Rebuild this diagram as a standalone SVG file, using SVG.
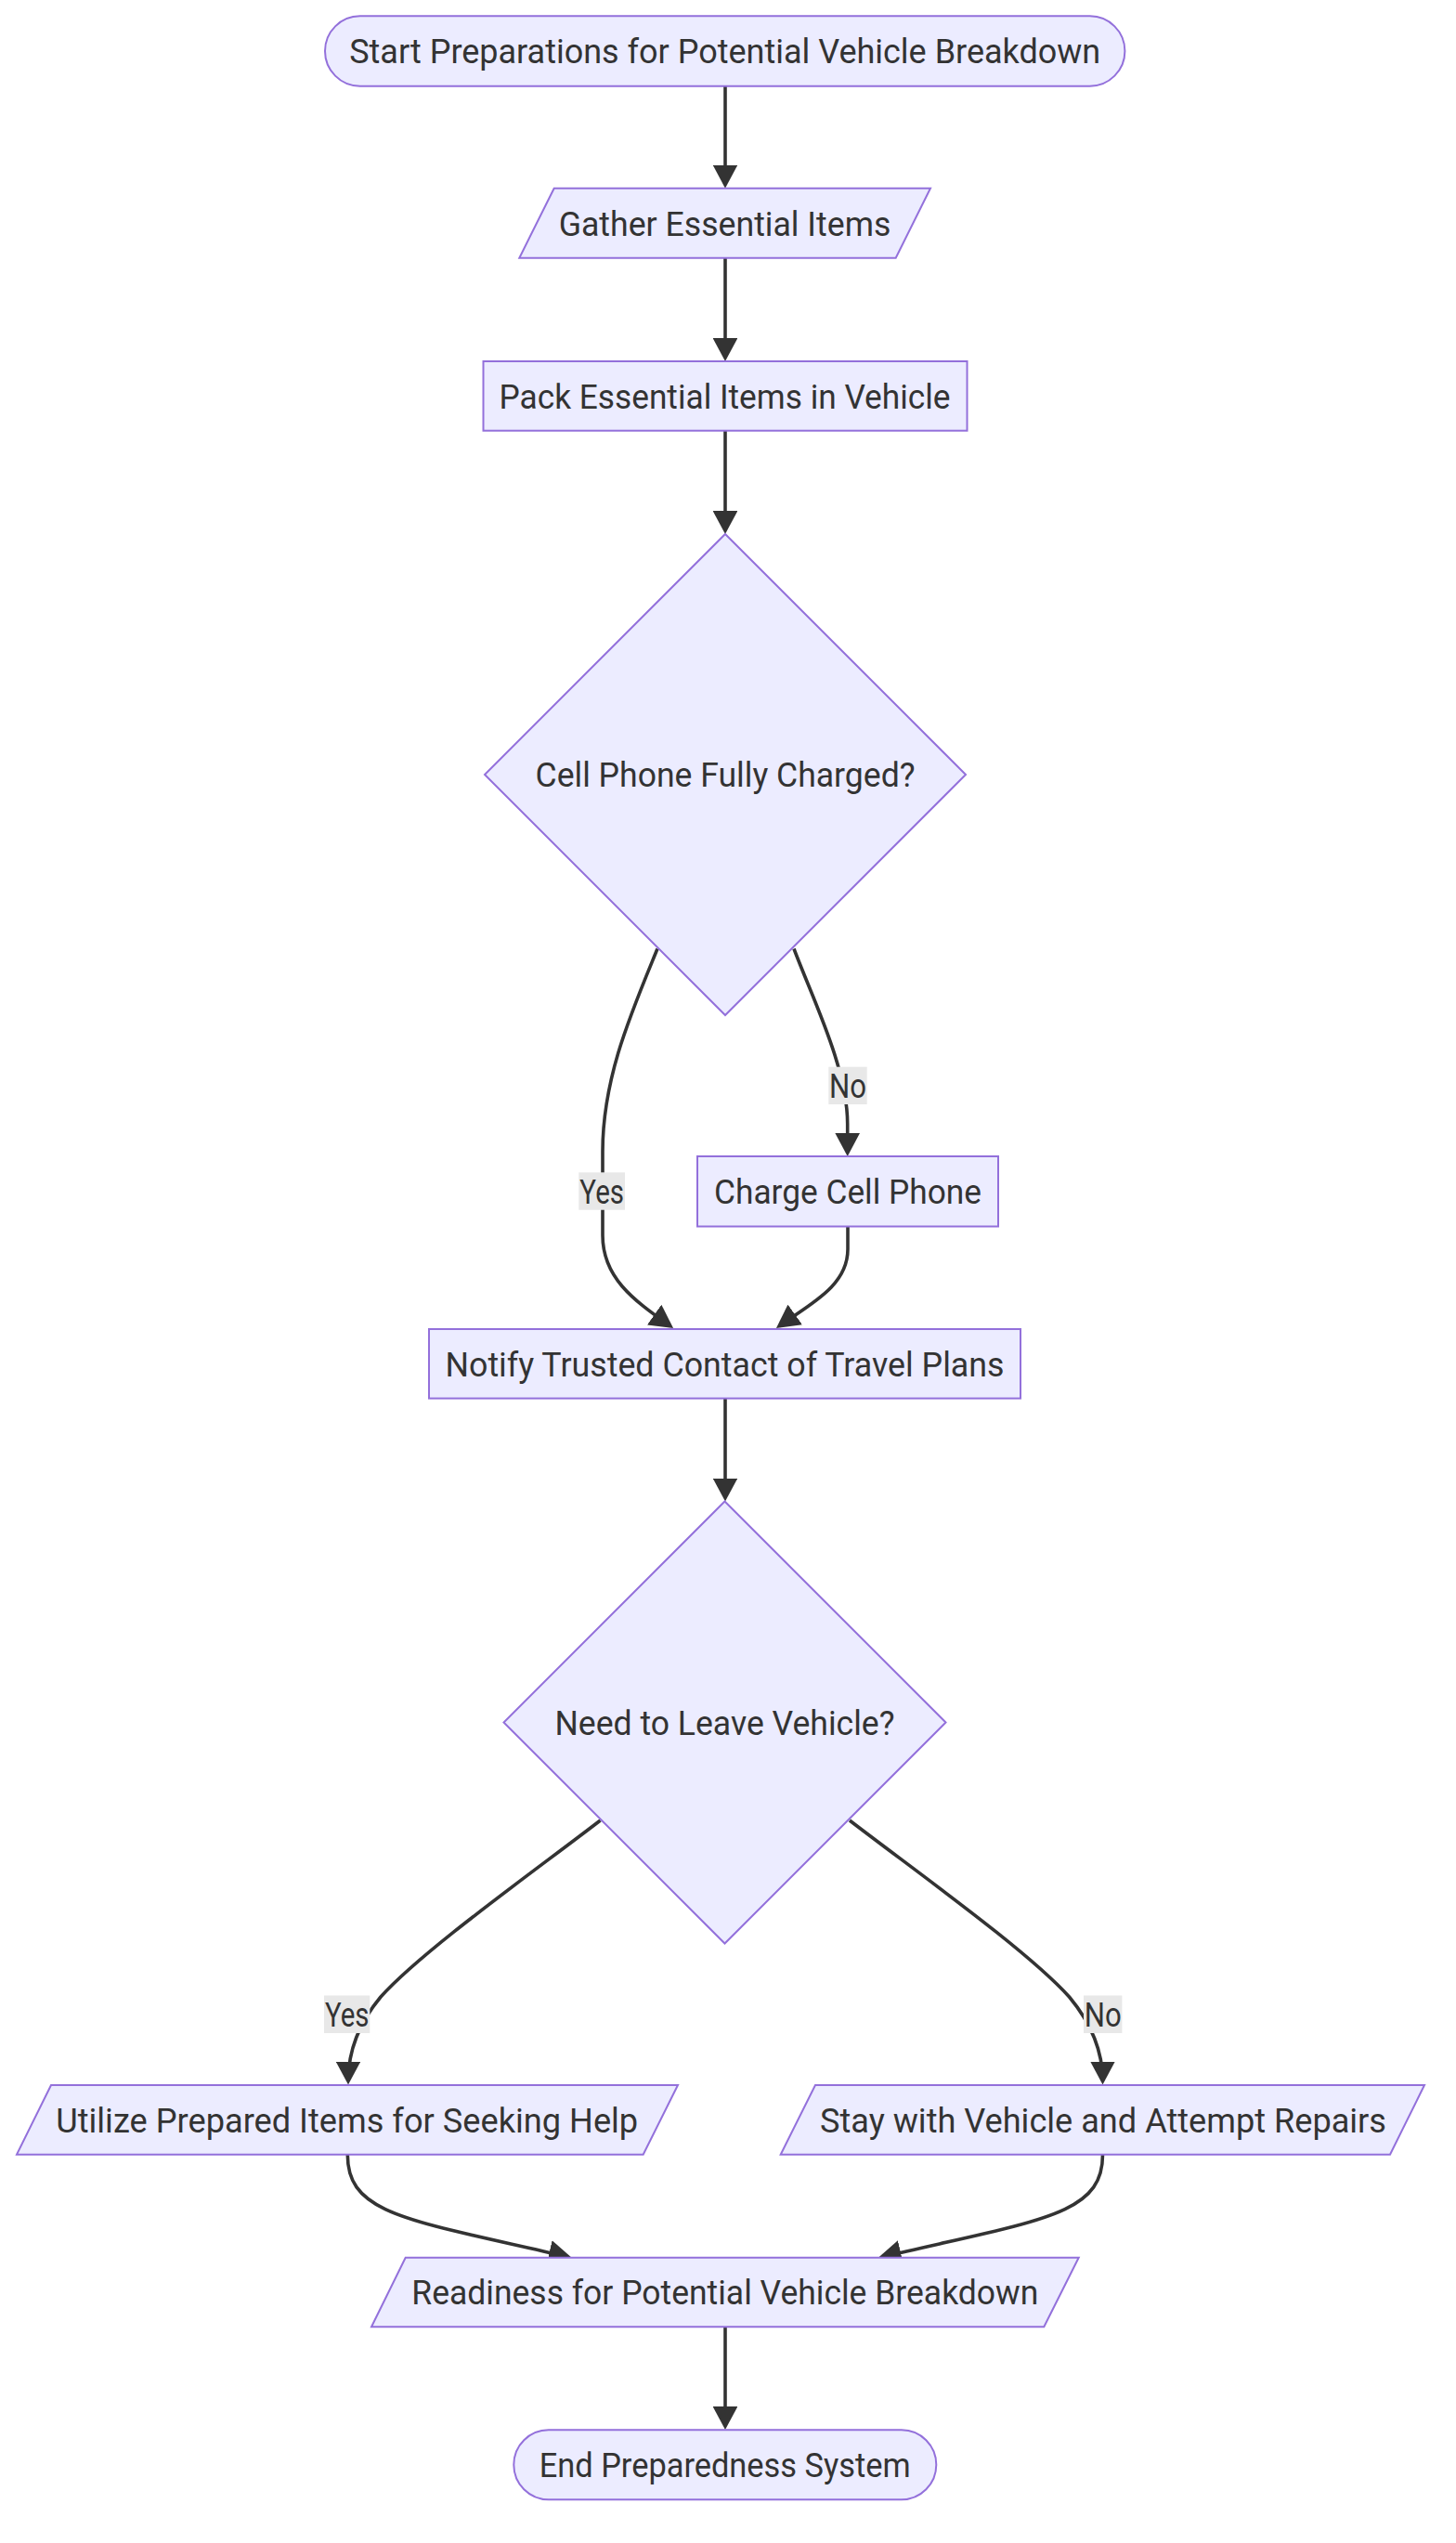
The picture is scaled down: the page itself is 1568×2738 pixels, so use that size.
<svg xmlns="http://www.w3.org/2000/svg" width="1568" height="2738" viewBox="0 0 1568 2738">
<defs>
<style>
.node{fill:#ECECFF;stroke:#9370DB;stroke-width:2}
.lbl{font-family:Roboto,"Liberation Sans",sans-serif;font-size:37px;fill:#333333;text-anchor:middle}
.edge{fill:none;stroke:#333333;stroke-width:3.6}
.ebg{fill:#E8E8E8;stroke:none}
</style>
<marker id="arrow" markerUnits="userSpaceOnUse" viewBox="0 0 25 26.7" refX="21" refY="13.35" markerWidth="25" markerHeight="26.7" orient="auto">
<path d="M0,0 L25,13.35 L0,26.7 z" fill="#333333"/>
</marker>
</defs>
<rect width="1568" height="2738" fill="#ffffff"/>
<g id="connectors">
<path class="edge" marker-end="url(#arrow)" d="M781,93 L781,198.7"/>
<path class="edge" marker-end="url(#arrow)" d="M781,278 L781,385"/>
<path class="edge" marker-end="url(#arrow)" d="M781,464 L781,571"/>
<path class="edge" marker-end="url(#arrow)" d="M708,1021.5 C680,1090 649,1160 649,1240 L649,1330 C649,1375 681,1399 721.8,1427.7"/>
<path class="edge" marker-end="url(#arrow)" d="M855,1021.5 C875,1075 912.7,1150 912.7,1210 L912.7,1241"/>
<path class="edge" marker-end="url(#arrow)" d="M913,1320.7 L913,1345 C913,1385 871.6,1404.5 839.2,1427.7"/>
<path class="edge" marker-end="url(#arrow)" d="M781,1506 L781,1612.5"/>
<path class="edge" marker-end="url(#arrow)" d="M646.5,1960 C575,2015 455,2100 410,2150 C385,2180 375,2210 375,2240.5"/>
<path class="edge" marker-end="url(#arrow)" d="M915,1960 C986.5,2015 1106.5,2100 1151.5,2150 C1176.5,2180 1187.5,2210 1187.5,2240.5"/>
<path class="edge" marker-end="url(#arrow)" d="M374.3,2320 C374.3,2385 440,2390 612,2430"/>
<path class="edge" marker-end="url(#arrow)" d="M1187.5,2320 C1187.5,2385 1121.5,2390 949.5,2430"/>
<path class="edge" marker-end="url(#arrow)" d="M781,2506 L781,2612"/>
</g>
<g id="edge-labels">
<g id="label-yes-1"><rect class="ebg" x="623.3" y="1262.3" width="49.7" height="40.4"/><text class="lbl" x="648.2" y="1295.7" textLength="47.7" lengthAdjust="spacingAndGlyphs">Yes</text></g>
<g id="label-no-1"><rect class="ebg" x="892.3" y="1148.7" width="41.4" height="40.3"/><text class="lbl" x="913" y="1182" textLength="40" lengthAdjust="spacingAndGlyphs">No</text></g>
<g id="label-yes-2"><rect class="ebg" x="349" y="2148.5" width="49.3" height="40.5"/><text class="lbl" x="373.7" y="2182" textLength="47.5" lengthAdjust="spacingAndGlyphs">Yes</text></g>
<g id="label-no-2"><rect class="ebg" x="1167" y="2148.5" width="41.4" height="40.5"/><text class="lbl" x="1187.7" y="2182" textLength="40" lengthAdjust="spacingAndGlyphs">No</text></g>
</g>
<g id="node-start">
<rect class="node" x="350" y="17.3" width="861.4" height="75.4" rx="37.7" ry="37.7"/>
<text class="lbl" x="780.7" y="68.3" textLength="809" lengthAdjust="spacingAndGlyphs">Start Preparations for Potential Vehicle Breakdown</text>
</g>
<g id="node-gather">
<polygon class="node" points="596.7,202.7 1002,202.7 964.7,277.7 559.3,277.7"/>
<text class="lbl" x="780.5" y="253.5" textLength="357.6" lengthAdjust="spacingAndGlyphs">Gather Essential Items</text>
</g>
<g id="node-pack">
<rect class="node" x="520.5" y="389" width="521" height="74.7"/>
<text class="lbl" x="780.5" y="439.6" textLength="486" lengthAdjust="spacingAndGlyphs">Pack Essential Items in Vehicle</text>
</g>
<g id="node-decision-phone">
<polygon class="node" points="781,575 1040,834 781,1093 522,834"/>
<text class="lbl" x="781" y="847.3" textLength="409" lengthAdjust="spacingAndGlyphs">Cell Phone Fully Charged?</text>
</g>
<g id="node-charge">
<rect class="node" x="751" y="1245" width="324" height="75.5"/>
<text class="lbl" x="913" y="1296" textLength="288" lengthAdjust="spacingAndGlyphs">Charge Cell Phone</text>
</g>
<g id="node-notify">
<rect class="node" x="462" y="1431" width="637" height="74.6"/>
<text class="lbl" x="780.5" y="1481.6" textLength="602" lengthAdjust="spacingAndGlyphs">Notify Trusted Contact of Travel Plans</text>
</g>
<g id="node-decision-leave">
<polygon class="node" points="780.5,1616.5 1018.5,1854.5 780.5,2092.5 542.5,1854.5"/>
<text class="lbl" x="780.5" y="1867.8" textLength="366" lengthAdjust="spacingAndGlyphs">Need to Leave Vehicle?</text>
</g>
<g id="node-utilize">
<polygon class="node" points="55,2245 730,2245 692.7,2319.7 18,2319.7"/>
<text class="lbl" x="373.7" y="2295.6" textLength="627" lengthAdjust="spacingAndGlyphs">Utilize Prepared Items for Seeking Help</text>
</g>
<g id="node-stay">
<polygon class="node" points="878,2245 1534,2245 1497,2319.7 840.7,2319.7"/>
<text class="lbl" x="1188" y="2295.6" textLength="610" lengthAdjust="spacingAndGlyphs">Stay with Vehicle and Attempt Repairs</text>
</g>
<g id="node-readiness">
<polygon class="node" points="436.7,2430.7 1161.7,2430.7 1124.3,2505.3 400,2505.3"/>
<text class="lbl" x="780.8" y="2481.3" textLength="675" lengthAdjust="spacingAndGlyphs">Readiness for Potential Vehicle Breakdown</text>
</g>
<g id="node-end">
<rect class="node" x="553.3" y="2616.3" width="455" height="75" rx="37.5" ry="37.5"/>
<text class="lbl" x="780.7" y="2667.1" textLength="400" lengthAdjust="spacingAndGlyphs">End Preparedness System</text>
</g>
</svg>
